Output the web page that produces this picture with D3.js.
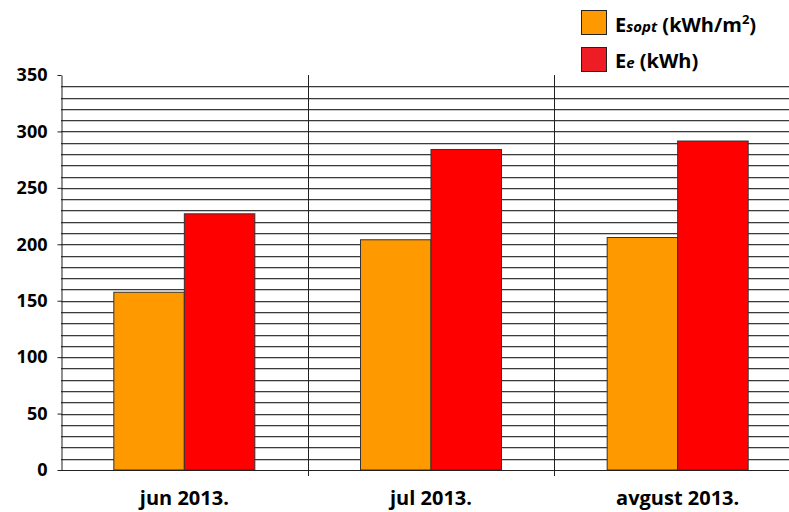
<!DOCTYPE html>
<html><head><meta charset="utf-8">
<script src="https://cdn.jsdelivr.net/npm/d3@7"></script>
<style>body{margin:0;background:#fff}svg{display:block}text{font-family:"Open Sans",Lato,sans-serif;font-weight:bold}</style>
</head><body>
<svg id="c" width="789" height="512"></svg>
<script>
const categories = ["jun 2013.", "jul 2013.", "avgust 2013."];
const esopt = [157.5, 204, 206];
const ee = [227, 284, 291.5];
const yTicks = [0, 50, 100, 150, 200, 250, 300, 350];
const gridValues = d3.range(10, 350, 10);

const svg = d3.select("#c");
const x = d3.scaleBand().domain(categories).range([61, 801]).padding(0);
const y = d3.scaleLinear().domain([0, 350]).range([470, 75]);
const sub = d3.scaleBand().domain(["esopt", "ee"]).range([0, 141]).padding(0);
const grpOff = (x.bandwidth() - 141) / 2;

// gridlines
const g = svg.append("g");
g.selectAll("line.s").data(gridValues).join("line")
  .attr("x1", 61).attr("x2", 801)
  .attr("y1", d => Math.round(y(d)) + 1.5).attr("y2", d => Math.round(y(d)) + 1.5)
  .attr("stroke", "#c8c8c8").attr("stroke-width", 1);
g.selectAll("line.m").data(gridValues).join("line")
  .attr("x1", 61).attr("x2", 801)
  .attr("y1", d => Math.round(y(d)) + 0.5).attr("y2", d => Math.round(y(d)) + 0.5)
  .attr("stroke", "#3a3a3a").attr("stroke-width", 1);

// category separators
const seps = categories.slice(1);
svg.selectAll("line.sep").data(seps).join("line")
  .attr("x1", d => Math.round(x(d)) + 0.5).attr("x2", d => Math.round(x(d)) + 0.5)
  .attr("y1", 75).attr("y2", 476)
  .attr("stroke", "#222");

// bars
const grp = svg.selectAll("g.cat").data(categories).join("g")
  .attr("transform", d => `translate(${x(d) + grpOff},0)`);
grp.append("rect")
  .attr("x", sub("esopt")).attr("width", sub.bandwidth())
  .attr("y", (d, i) => y(esopt[i])).attr("height", (d, i) => y(0) - y(esopt[i]))
  .attr("fill", "#ff9900").attr("stroke", "#333").attr("stroke-width", 1);
grp.append("rect")
  .attr("x", sub("ee")).attr("width", sub.bandwidth())
  .attr("y", (d, i) => y(ee[i])).attr("height", (d, i) => y(0) - y(ee[i]))
  .attr("fill", "#ff0000").attr("stroke", "#333").attr("stroke-width", 1);

// y axis
const yAxis = d3.axisLeft(y).tickValues(yTicks).tickSize(4).tickSizeOuter(0).tickPadding(10);
const ya = svg.append("g").attr("transform", "translate(61.5,0)").call(yAxis);
ya.select(".domain").attr("stroke", "#222");
ya.selectAll(".tick line").attr("stroke", "#222");
ya.selectAll("text").attr("font-size", 18).attr("fill", "#000")
  .style("font-family", "'Open Sans', Lato, sans-serif").style("font-weight", "bold");

// x axis line
svg.append("line").attr("x1", 61).attr("x2", 801).attr("y1", 470.5).attr("y2", 470.5).attr("stroke", "#222");
svg.selectAll("text.cat").data(categories).join("text")
  .attr("x", d => x(d) + x.bandwidth() / 2).attr("y", 505)
  .attr("text-anchor", "middle").attr("font-size", 20).attr("fill", "#000").text(d => d);

// legend
const leg = svg.append("g");
leg.append("rect").attr("x", 581.5).attr("y", 10.5).attr("width", 25).attr("height", 24)
  .attr("fill", "#ff9900").attr("stroke", "#222");
leg.append("rect").attr("x", 581.5).attr("y", 47.5).attr("width", 25).attr("height", 24)
  .attr("fill", "#ee1c25").attr("stroke", "#222");
const t1 = leg.append("text").attr("x", 615).attr("y", 32).attr("font-size", 20).attr("fill", "#000");
t1.append("tspan").text("E");
t1.append("tspan").attr("font-size", 15).attr("font-style", "italic").text("sopt");
t1.append("tspan").text(" (kWh/m");
t1.append("tspan").attr("font-size", 13).attr("dy", -8).text("2");
t1.append("tspan").attr("dy", 8).text(")");
const t2 = leg.append("text").attr("x", 615).attr("y", 68).attr("font-size", 20).attr("fill", "#000");
t2.append("tspan").text("E");
t2.append("tspan").attr("font-size", 15).attr("font-style", "italic").text("e");
t2.append("tspan").text(" (kWh)");
</script>
</body></html>
